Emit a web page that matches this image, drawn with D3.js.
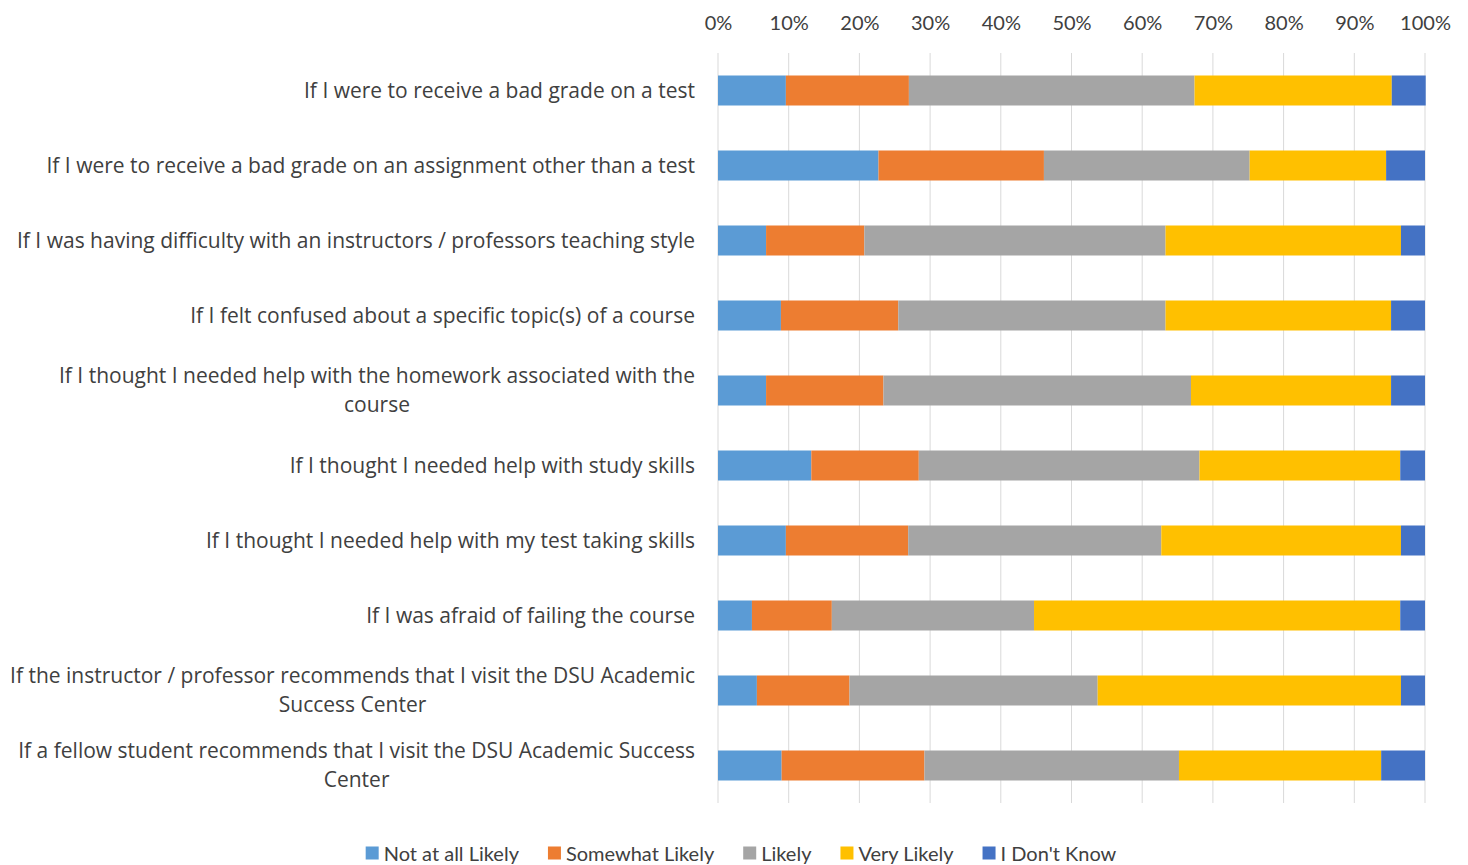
<!DOCTYPE html>
<html>
<head>
<meta charset="utf-8">
<script src="https://cdn.jsdelivr.net/npm/d3@7"></script>
<style>
  body { margin: 0; background: #fff; }
  svg { font-family: Lato, "Open Sans", sans-serif; }
</style>
</head>
<body>
<svg id="chart" width="1468" height="865"></svg>
<script>
// questions, top to bottom
const categories = [
  ["If I were to receive a bad grade on a test"],
  ["If I were to receive a bad grade on an assignment other than a test"],
  ["If I was having difficulty with an instructors / professors teaching style"],
  ["If I felt confused about a specific topic(s) of a course"],
  ["If I thought I needed help with the homework associated with the", "course"],
  ["If I thought I needed help with study skills"],
  ["If I thought I needed help with my test taking skills"],
  ["If I was afraid of failing the course"],
  ["If the instructor / professor recommends that I visit the DSU Academic", "Success Center"],
  ["If a fellow student recommends that I visit the DSU Academic Success", "Center"]
];

const seriesNames = ["Not at all Likely", "Somewhat Likely", "Likely", "Very Likely", "I Don't Know"];
const seriesColors = ["#5B9BD5", "#ED7D31", "#A5A5A5", "#FFC000", "#4472C4"];

// percentages per series, one value per question
const notAtAll   = [9.6, 22.7, 6.8, 8.9, 6.8, 13.2, 9.6, 4.8, 5.5, 9.0];
const somewhat   = [17.4, 23.4, 13.9, 16.6, 16.6, 15.2, 17.3, 11.3, 13.1, 20.2];
const likely     = [40.4, 29.1, 42.6, 37.8, 43.5, 39.7, 35.8, 28.6, 35.1, 36.0];
const veryLikely = [27.9, 19.3, 33.3, 31.9, 28.3, 28.4, 33.9, 51.8, 42.9, 28.6];
const dontKnow   = [4.8, 5.5, 3.4, 4.8, 4.8, 3.5, 3.4, 3.5, 3.4, 6.2];

const tickValues = [0, 10, 20, 30, 40, 50, 60, 70, 80, 90, 100];

const allSeries = [notAtAll, somewhat, likely, veryLikely, dontKnow];
const rows = categories.map((c, i) => {
  const r = { idx: i };
  seriesNames.forEach((s, j) => r[s] = allSeries[j][i]);
  return r;
});

const svg = d3.select("#chart");
const textColor = "#404040";

const x = d3.scaleLinear().domain([0, 100]).range([718, 1425]);
const y = d3.scaleBand()
  .domain(d3.range(categories.length))
  .range([53, 803])
  .paddingInner(0.6)
  .paddingOuter(0.3);

// gridlines
svg.append("g")
  .selectAll("line")
  .data(tickValues)
  .join("line")
  .attr("x1", d => x(d)).attr("x2", d => x(d))
  .attr("y1", 53).attr("y2", 803)
  .attr("stroke", "#d9d9d9")
  .attr("stroke-width", 1);

// top axis labels
const xAxis = d3.axisTop(x).tickValues(tickValues).tickFormat(d => d + "%").tickSize(0).tickPadding(0);
const gx = svg.append("g").attr("transform", "translate(0,30)").call(xAxis);
gx.select(".domain").remove();
gx.selectAll("text")
  .attr("font-size", 20)
  .attr("font-family", "Lato, 'Open Sans', sans-serif")
  .attr("fill", textColor);

// stacked bars
const stack = d3.stack().keys(seriesNames);
const layers = stack(rows);

svg.append("g")
  .selectAll("g")
  .data(layers)
  .join("g")
  .attr("fill", (d, i) => seriesColors[i])
  .selectAll("rect")
  .data(d => d)
  .join("rect")
  .attr("x", d => x(d[0]))
  .attr("width", d => x(d[1]) - x(d[0]))
  .attr("y", d => y(d.data.idx))
  .attr("height", y.bandwidth());

// category labels
const labelRight = 695;
const lineH = 29;
const lab = svg.append("g");
categories.forEach((lines, i) => {
  const cy = y(i) + y.bandwidth() / 2 - 1;
  const g = lab.append("g");
  const texts = lines.map((l, k) => g.append("text")
    .attr("font-size", 21)
    .attr("font-family", "'Open Sans', sans-serif")
    .attr("fill", textColor)
    .attr("dominant-baseline", "central")
    .attr("y", cy + (k - (lines.length - 1) / 2) * lineH)
    .text(l));
  const maxW = d3.max(texts, t => t.node().getComputedTextLength());
  texts.forEach(t => t.attr("text-anchor", "middle").attr("x", labelRight - maxW / 2));
});

// legend
const legend = svg.append("g").attr("transform", "translate(0,853)");
let lx = 0;
const items = [];
seriesNames.forEach((s, i) => {
  const it = legend.append("g");
  it.append("rect").attr("x", 0).attr("y", -6.5).attr("width", 13).attr("height", 13).attr("fill", seriesColors[i]);
  const t = it.append("text").attr("x", 18).attr("font-size", 20).attr("fill", textColor)
    .attr("dominant-baseline", "central").text(s);
  const w = 18 + t.node().getComputedTextLength();
  items.push({ it, w });
});
const gap = 29;
const total = d3.sum(items, d => d.w) + gap * (items.length - 1);
lx = 741 - total / 2;
items.forEach(d => { d.it.attr("transform", `translate(${lx},0)`); lx += d.w + gap; });
</script>
</body>
</html>
